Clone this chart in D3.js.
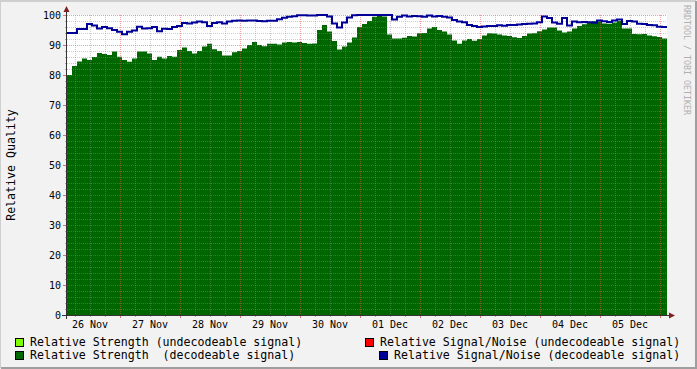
<!DOCTYPE html>
<html><head><meta charset="utf-8">
<script src="https://cdn.jsdelivr.net/npm/d3@7"></script>
<style>body{margin:0;background:#f2f2f2}svg{display:block}text{font-family:"DejaVu Sans Mono",monospace}</style>
</head><body><svg id="c" width="697" height="369"></svg>
<script>
// ---- data (2-hour samples starting 26 Nov 02:48) ----
const startTime = new Date(2019, 10, 26, 2, 48);
const stepHours = 2;
const strengthDecodeable = [80,83,84.5,85.5,85,86,87.3,87,86.7,87.8,86.1,85,84.4,85.5,87.8,87.8,87.2,85,86.1,85.5,86.3,86.1,88.3,89.2,88,87.2,88,89.5,90.4,88.6,88,86.5,86.5,87.6,88,88.8,90,91,90,89.6,90.4,90.4,90.2,90.8,91,90.8,91,90.7,90.4,90.5,95,96.7,94.5,91.3,88.5,89.5,90.8,92.5,96,97,98,99.4,100,99.5,93.5,92.2,92.2,92.4,93,92.8,93.9,94,95.5,96,95,94.5,93.5,91.5,90.4,91.5,92,91.4,92,93.2,93.9,93.8,93.5,93.2,93,92.6,92.3,93,93.8,93.9,94.6,95.2,95.8,95.8,94.8,94.2,94.5,95.5,96.3,96.9,97.4,98,97.8,97.2,97.1,97.5,98,95.5,95.5,93.7,93.6,93.7,93.2,92.9,92.7,92.2];
const strengthUndecodeable = [0,0,0,0,0,0,88,0,0,0,0,0,0,0,88.5,0,0,0,0,0,0,0,0,0,89,0,0,0,91,0,0,0,0,0,0,0,90.5,0,0,0,0,0,0,0,0,0,0,0,0,0,0,0,0,0,0,0,0,0,0,0,0,0,0,0,0,0,0,0,0,0,0,0,0,0,0,0,0,0,0,0,0,0,0,0,0,0,0,0,0,0,0,0,0,0,0,0,0,0,0,0,0,0,0,0,0,98.5,0,0,0,0,0,0,0,0,0,0,0,0,0,0];
const snDecodeable = [94,94,95.3,95.3,97,96.5,95.5,96,95.6,95,94.4,93.6,94.4,94.8,96.1,95.5,95.6,96,94.6,95.4,95.3,96,96.3,97.3,97.2,97.5,97.8,97.6,96.3,97.3,97.6,97.2,97.8,98.1,98.2,98.1,98.2,98.2,98,97.9,98.1,98.1,98.6,99.1,99.4,99.6,99.9,99.9,99.8,99.8,100,100,99.5,97.2,95.8,97.5,99.2,99.9,100,100,100,100,100,100,100,98.5,99.4,99.8,99.5,99.7,99.6,99.4,99.8,99.5,99.7,99.4,99.2,98.3,97.8,97.6,96.7,96.3,96,96.2,96.3,96.3,96.6,96.4,96.7,96.7,96.8,97,97.1,97.2,97.6,99.5,99,97.5,97.1,99,96.5,97.8,97.6,97.7,97.6,97.4,98.2,97.9,97.7,98.2,98.5,97,98,97.8,97.1,97,96.7,96.6,96.1,96];
const snUndecodeable = [];
const yTicks = [0,10,20,30,40,50,60,70,80,90,100];
const legendLabels = ["Relative Strength (undecodeable signal)","Relative Signal/Noise (undecodeable signal)","Relative Strength  (decodeable signal)","Relative Signal/Noise (decodeable signal)"];
const legendColors = ["#7fff00","#ff0000","#006600","#000099"];

const svg = d3.select("#c");
const W = 697, H = 369;
const X0 = 67, X1 = 667, Y0 = 315, Y1 = 15;
const endTime = d3.timeDay.offset(startTime, 10);
const x = d3.scaleTime().domain([startTime, endTime]).range([X0, X1]);
const y = d3.scaleLinear().domain([0, 100]).range([Y0, Y1]);
const t = i => d3.timeHour.offset(startTime, i * stepHours);

// background & frame
svg.append("rect").attr("width", W).attr("height", H).attr("fill", "#f2f2f2");
svg.append("path").attr("d", `M0,${H-1}V1H${W-1}`).attr("fill","none").attr("stroke","#cfcfcf").attr("stroke-width",2);
svg.append("path").attr("d", `M1,${H-1}H${W-1}V1`).attr("fill","none").attr("stroke","#9e9e9e").attr("stroke-width",2);
// canvas
svg.append("rect").attr("x", X0).attr("y", Y1).attr("width", X1 - X0).attr("height", Y0 - Y1).attr("fill", "#fff");

function mk(arr) { const d = arr.map((v, i) => ({t: t(i), v})); if (arr.length) d.push({t: t(arr.length), v: arr[arr.length - 1]}); return d; }
const area = d3.area().curve(d3.curveStepAfter).x(d => x(d.t)).y0(y(0)).y1(d => y(d.v)).defined(d => d.v > 0);
svg.append("path").datum(mk(strengthUndecodeable)).attr("d", area).attr("fill", legendColors[0]);
svg.append("path").datum(mk(strengthDecodeable)).attr("d", area).attr("fill", legendColors[2]);

// grid
const g = svg.append("g").attr("shape-rendering", "crispEdges");
const minorColor = "rgba(143,143,143,0.45)", majorColor = "rgba(222,80,80,0.55)";
for (let v = 0; v <= 100; v += 2) {
  const major = v % 10 === 0;
  if (v === 0) continue;
  g.append("line").attr("x1", X0).attr("x2", X1).attr("y1", y(v) + 0.5).attr("y2", y(v) + 0.5)
    .attr("stroke", major ? majorColor : minorColor).attr("stroke-dasharray", "1,1");
}
const hours = d3.timeHour.every(6).range(startTime, endTime);
hours.forEach(h => {
  const major = h.getHours() === 0;
  const px = Math.round(x(h)) + 0.5;
  g.append("line").attr("x1", px).attr("x2", px).attr("y1", Y1).attr("y2", Y0)
    .attr("stroke", major ? majorColor : minorColor).attr("stroke-dasharray", "1,1");
  g.append("line").attr("x1", px).attr("x2", px).attr("y1", Y0).attr("y2", Y0 + (major ? 3 : 2))
    .attr("stroke", major ? "rgba(222,80,80,0.8)" : "#aaa");
});
for (let v = 0; v <= 100; v += 2) {
  const major = v % 10 === 0;
  g.append("line").attr("x1", X0 - (major ? 4 : 2)).attr("x2", X0).attr("y1", y(v) + 0.5).attr("y2", y(v) + 0.5)
    .attr("stroke", major ? "rgba(222,80,80,0.8)" : "#aaa");
}

// S/N lines
const line = d3.line().curve(d3.curveStepAfter).x(d => x(d.t)).y(d => y(d.v));
svg.append("path").datum(mk(snUndecodeable)).attr("d", line).attr("fill", "none").attr("stroke", legendColors[1]).attr("stroke-width", 2);
svg.append("path").datum(mk(snDecodeable)).attr("d", line).attr("fill", "none").attr("stroke", legendColors[3]).attr("stroke-width", 2).attr("stroke-linejoin","miter");

// axes
const ax = svg.append("g").attr("shape-rendering", "crispEdges");
ax.append("line").attr("x1", X0 - 5).attr("x2", X1 + 3).attr("y1", Y0 + 0.5).attr("y2", Y0 + 0.5).attr("stroke", "#333");
ax.append("line").attr("x1", X0 - 0.5).attr("x2", X0 - 0.5).attr("y1", Y0 + 4).attr("y2", Y1 - 4).attr("stroke", "#333");
svg.append("path").attr("d", `M${X1+2},${Y0-2.5}L${X1+8},${Y0+0.5}L${X1+2},${Y0+3.5}Z`).attr("fill", "#7f1f1f");
svg.append("path").attr("d", `M${X0-3.5},${Y1-3}L${X0-0.5},${Y1-9}L${X0+2.5},${Y1-3}Z`).attr("fill", "#7f1f1f");

// tick labels
const lab = svg.append("g").attr("font-size", "10px").attr("fill", "#000");
yTicks.forEach(v => lab.append("text").attr("x", 61).attr("y", y(v)).attr("dy", "0.35em").attr("text-anchor", "end").text(v));
const fmt = d3.timeFormat("%d %b");
d3.timeDay.range(d3.timeDay.floor(startTime), endTime).forEach(d => {
  const noon = d3.timeHour.offset(d, 12);
  if (noon < startTime || noon > endTime) return;
  lab.append("text").attr("x", x(noon)).attr("y", 328).attr("text-anchor", "middle").text(fmt(noon));
});

// titles
svg.append("text").attr("transform", "translate(15,165) rotate(-90)").attr("text-anchor", "middle")
  .attr("font-size", "11.6px").text("Relative Quality");
svg.append("text").attr("transform", "translate(684,5) rotate(90)").attr("font-size", "8.3px")
  .attr("fill", "#b0b0b0").text("RRDTOOL / TOBI OETIKER");

// legend
const leg = [{x:15, ty:30, y:338}, {x:365, ty:380, y:338}, {x:15, ty:30, y:351}, {x:379, ty:394, y:351}];
leg.forEach((p, i) => {
  svg.append("rect").attr("x", p.x + 0.5).attr("y", p.y + 0.5).attr("width", 8).attr("height", 8)
    .attr("fill", legendColors[i]).attr("stroke", "#000").attr("shape-rendering", "crispEdges");
  svg.append("text").attr("x", p.ty).attr("y", p.y + 8).attr("font-size", "11.6px").attr("xml:space","preserve")
    .style("white-space", "pre").text(legendLabels[i]);
});
</script></body></html>
